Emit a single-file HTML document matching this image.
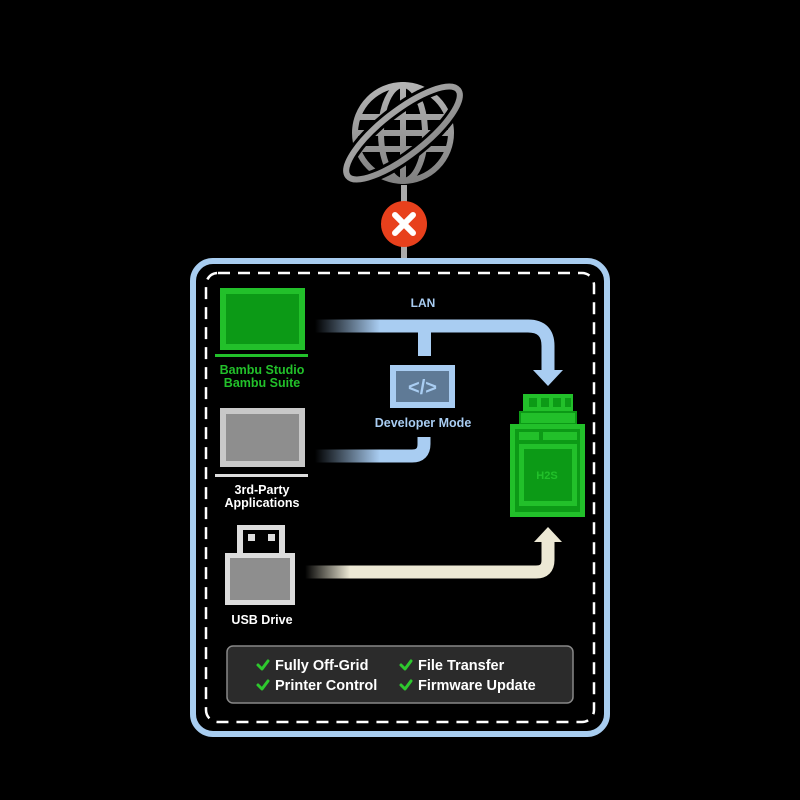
<!DOCTYPE html>
<html><head><style>
html,body{margin:0;padding:0;background:#000;width:800px;height:800px;overflow:hidden}
text{font-family:"Liberation Sans",sans-serif;font-weight:bold}
</style></head><body>
<svg width="800" height="800" viewBox="0 0 800 800" xmlns="http://www.w3.org/2000/svg">
<defs>
<linearGradient id="gb" x1="315" y1="0" x2="380" y2="0" gradientUnits="userSpaceOnUse"><stop offset="0" stop-color="#a9cdf2" stop-opacity="0"/><stop offset="1" stop-color="#a9cdf2"/></linearGradient>
<linearGradient id="gc" x1="305" y1="0" x2="350" y2="0" gradientUnits="userSpaceOnUse"><stop offset="0" stop-color="#ece8d4" stop-opacity="0"/><stop offset="1" stop-color="#ece8d4"/></linearGradient>
<linearGradient id="gg" x1="0" y1="70" x2="0" y2="200" gradientUnits="userSpaceOnUse"><stop offset="0" stop-color="#bbb"/><stop offset="1" stop-color="#777"/></linearGradient>
</defs>
<!-- globe connector -->
<line x1="404" y1="185" x2="404" y2="262" stroke="#aaa" stroke-width="6"/>
<g fill="none" stroke="url(#gg)" stroke-width="6">
<circle cx="403" cy="133" r="48"/>
<ellipse cx="403" cy="133" rx="22" ry="48"/>
<line x1="403" y1="85" x2="403" y2="181"/>
<line x1="358" y1="117" x2="448" y2="117"/>
<line x1="355" y1="133" x2="451" y2="133"/>
<line x1="358" y1="149" x2="448" y2="149"/>
<ellipse cx="403" cy="133" rx="70" ry="22" transform="rotate(-38 403 133)" stroke="#000" stroke-width="12"/>
<ellipse cx="403" cy="133" rx="70" ry="22" transform="rotate(-38 403 133)"/>
</g>
<circle cx="404" cy="224" r="23" fill="#e8401c"/>
<path d="M395 215 L413 233 M413 215 L395 233" stroke="#fff" stroke-width="6" stroke-linecap="round"/>
<!-- box -->
<rect x="193" y="261" width="414" height="473" rx="20" fill="#000" stroke="#a8cdf0" stroke-width="6"/>
<rect x="206" y="273" width="388" height="449" rx="12" fill="none" stroke="#fff" stroke-width="2.5" stroke-dasharray="12 8"/>
<!-- LAN arrow -->
<path d="M315 326 H528 Q548 326 548 346 V372" fill="none" stroke="url(#gb)" stroke-width="13"/>
<path d="M533 370 H563 L548 386 Z" fill="#a9cdf2"/>
<rect x="418" y="326" width="13" height="30" fill="#a9cdf2"/>
<path d="M424 437 V444 Q424 456 412 456 H315" fill="none" stroke="url(#gb)" stroke-width="13"/>
<text x="423" y="307" fill="#a9cdf2" font-size="12" text-anchor="middle">LAN</text>
<!-- dev mode -->
<rect x="390" y="365" width="65" height="43" fill="#a9cdf2"/>
<rect x="396" y="371" width="53" height="31" fill="#5f7a96"/>
<text x="422.5" y="394" fill="#a9cdf2" font-size="20" text-anchor="middle">&lt;/&gt;</text>
<text x="423" y="427" fill="#a9cdf2" font-size="12.5" text-anchor="middle">Developer Mode</text>
<!-- green monitor -->
<rect x="220" y="288" width="85" height="62" fill="#22c02a"/>
<rect x="226" y="294" width="73" height="50" fill="#0c9a16"/>
<rect x="215" y="354" width="93" height="3" fill="#22c02a"/>
<text x="262" y="374" fill="#22c02a" font-size="12.5" text-anchor="middle">Bambu Studio</text>
<text x="262" y="387" fill="#22c02a" font-size="12.5" text-anchor="middle">Bambu Suite</text>
<!-- grey monitor -->
<rect x="220" y="408" width="85" height="59" fill="#c8c8c8"/>
<rect x="226" y="414" width="73" height="47" fill="#8e8e8e"/>
<rect x="215" y="474" width="93" height="3" fill="#ddd"/>
<text x="262" y="494" fill="#fff" font-size="12.5" text-anchor="middle">3rd-Party</text>
<text x="262" y="507" fill="#fff" font-size="12.5" text-anchor="middle">Applications</text>
<!-- printer -->
<rect x="523" y="394" width="50" height="20" fill="#22c02a"/>
<rect x="529" y="398" width="8" height="9" fill="#0c9a16"/><rect x="541" y="398" width="8" height="9" fill="#0c9a16"/><rect x="553" y="398" width="8" height="9" fill="#0c9a16"/><rect x="565" y="398" width="6" height="9" fill="#0c9a16"/>
<rect x="520" y="412" width="56" height="12" fill="#22c02a" stroke="#0c9a16" stroke-width="2"/>
<rect x="510" y="424" width="75" height="93" fill="#22c02a"/>
<rect x="515" y="429" width="65" height="83" fill="#0c9a16"/>
<rect x="519" y="432" width="20" height="8" fill="#22c02a"/>
<rect x="543" y="432" width="34" height="8" fill="#22c02a"/>
<rect x="519" y="444" width="58" height="62" fill="#22c02a"/>
<rect x="524" y="449" width="48" height="52" fill="#0c9a16"/>
<text x="547" y="479" fill="#22c02a" font-size="11" text-anchor="middle">H2S</text>
<!-- USB -->
<path d="M305 572 H536 Q548 572 548 560 V540" fill="none" stroke="url(#gc)" stroke-width="13"/>
<path d="M534 542 H562 L548 527 Z" fill="#ece8d4"/>
<rect x="237" y="525" width="48" height="30" fill="#ddd"/>
<rect x="243" y="530" width="36" height="25" fill="#000"/>
<rect x="248" y="534" width="7" height="7" fill="#ddd"/><rect x="268" y="534" width="7" height="7" fill="#ddd"/>
<rect x="225" y="553" width="70" height="52" fill="#ddd"/>
<rect x="230" y="558" width="60" height="42" fill="#8e8e8e"/>
<text x="262" y="624" fill="#fff" font-size="12.5" text-anchor="middle">USB Drive</text>
<!-- features -->
<rect x="227" y="646" width="346" height="57" rx="6" fill="#2b2b2b" stroke="#888" stroke-width="1.5"/>
<g fill="none" stroke="#2ec82e" stroke-width="3" stroke-linecap="round" stroke-linejoin="round">
<path d="M258 665 L262 669 L268 661"/><path d="M258 685 L262 689 L268 681"/>
<path d="M401 665 L405 669 L411 661"/><path d="M401 685 L405 689 L411 681"/>
</g>
<g fill="#fff" font-size="14.5">
<text x="275" y="670">Fully Off-Grid</text>
<text x="275" y="690">Printer Control</text>
<text x="418" y="670">File Transfer</text>
<text x="418" y="690">Firmware Update</text>
</g>
</svg>
</body></html>
